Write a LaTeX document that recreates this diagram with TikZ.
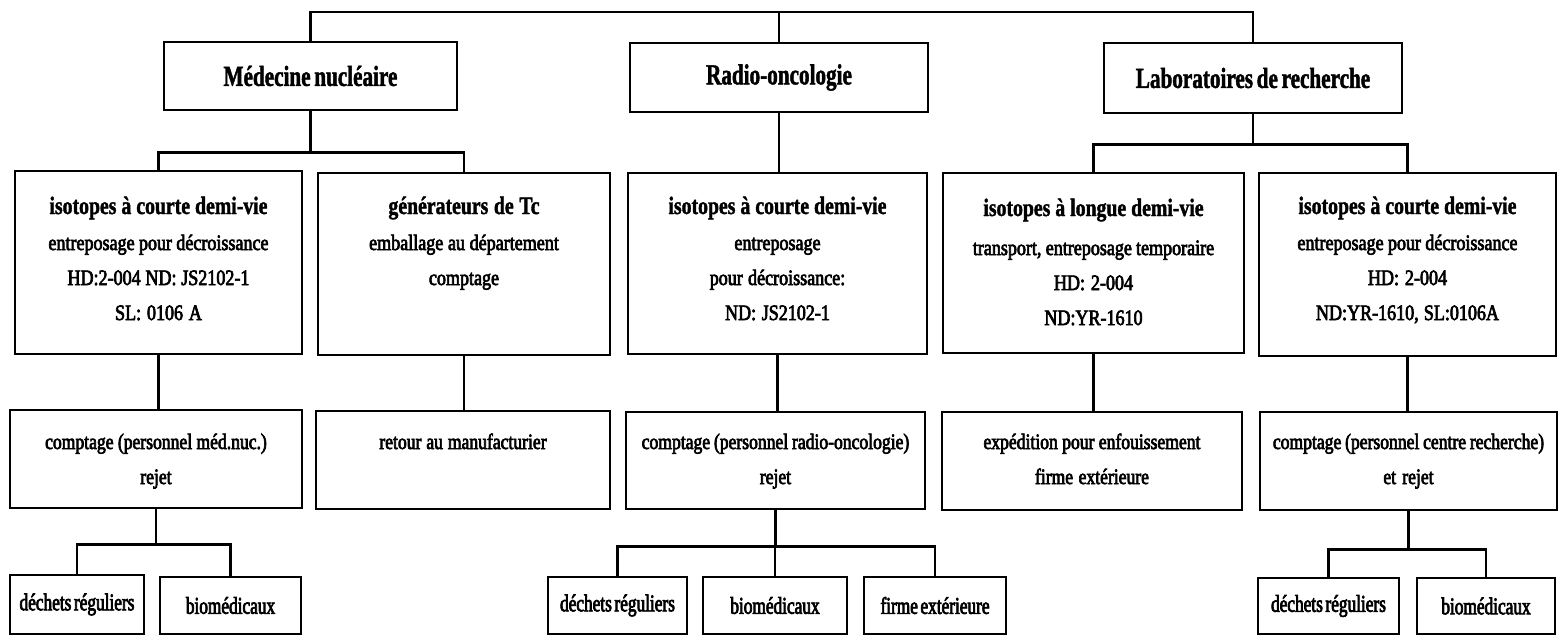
\documentclass[tikz,border=0pt]{standalone}
\usepackage{fontspec}
\setmainfont{Liberation Serif}
\newfontfamily\topf{Liberation Serif}[FakeStretch=0.73,WordSpace=0.7,BoldFeatures={FakeBold=1.5}]
\newfontfamily\ttlf{Liberation Serif}[FakeStretch=0.79,WordSpace=0.7,BoldFeatures={FakeBold=1.5}]
\newfontfamily\bdf{Liberation Serif}[FakeStretch=0.82,FakeBold=3,WordSpace=0.6]
\newfontfamily\rtf{Liberation Serif}[FakeStretch=0.8,FakeBold=3,WordSpace=0.6]
\newfontfamily\rff{Liberation Serif}[FakeStretch=0.72,FakeBold=3,WordSpace=0.6]
% \mkbox{name}{x1}{y1}{x2}{y2}{text}  (pixel coordinates, y downward)
\newcommand\mkbox[6]{\node[boxst, minimum width={(#4-#2)*0.5pt}, minimum height={(#5-#3)*0.5pt}] (#1) at ({(#2+#4)/2},{(#3+#5)/2}) {#6};}
\newcommand\toptext{\topf\bfseries\fontsize{14.5pt}{16pt}\selectfont}
\newcommand\botext{\rff\fontsize{12pt}{14pt}\selectfont}
\begin{document}
\begin{tikzpicture}[x=0.5pt,y=-0.5pt,line width=1.3pt,
  boxst/.style={draw, line width=1.3pt, inner sep=0pt},
  tight/.style={execute at begin node={\spaceskip=#1 plus 0.5pt\relax}},
  ttl/.style={anchor=base, inner sep=0pt, text width=160pt, align=center, tight=2pt, font={\ttlf\bfseries\fontsize{12.5pt}{15pt}\selectfont}},
  bdy/.style={anchor=base, inner sep=0pt, text width=160pt, align=center, tight=1.6pt, font={\bdf\fontsize{11pt}{17.5pt}\selectfont}},
  bdy3/.style={anchor=base, inner sep=0pt, text width=160pt, align=center, tight=1.6pt, font={\rtf\fontsize{11pt}{17.5pt}\selectfont}}]
\useasboundingbox (0,0) rectangle (1559,638);
% top level
\mkbox{med}{164}{42}{457}{110}{\toptext Médecine nucléaire}
\mkbox{rad}{630}{43}{928}{112}{\toptext Radio-oncologie}
\mkbox{lab}{1104}{43}{1402}{113}{\toptext Laboratoires de recherche}
% row 2
\mkbox{r2a}{15}{171}{302}{354}{}
\mkbox{r2b}{318}{173}{610}{355}{}
\mkbox{r2c}{628}{173}{927}{354}{}
\mkbox{r2d}{943}{173}{1244}{353}{}
\mkbox{r2e}{1259}{173}{1556}{356}{}
\node[ttl] (t2a) at (158.5,214) {isotopes à courte demi-vie};
\node[bdy] (d2a) at (158.5,250) {entreposage pour décroissance\\HD:2-004 ND: JS2102-1\\SL: 0106 A};
\node[ttl] (t2b) at (464,214) {générateurs de Tc};
\node[bdy] (d2b) at (464,250) {emballage au département\\comptage};
\node[ttl] (t2c) at (777.5,214) {isotopes à courte demi-vie};
\node[bdy] (d2c) at (777.5,250) {entreposage\\pour décroissance:\\ND: JS2102-1};
\node[ttl] (t2d) at (1093.5,216) {isotopes à longue demi-vie};
\node[bdy] (d2d) at (1093.5,255) {transport, entreposage temporaire\\HD: 2-004\\ND:YR-1610};
\node[ttl] (t2e) at (1407.5,214) {isotopes à courte demi-vie};
\node[bdy] (d2e) at (1407.5,250) {entreposage pour décroissance\\HD: 2-004\\ND:YR-1610, SL:0106A};
% row 3
\mkbox{r3a}{10}{410}{302}{508}{}
\mkbox{r3b}{316}{411}{610}{509}{}
\mkbox{r3c}{626}{412}{925}{509}{}
\mkbox{r3d}{942}{412}{1242}{510}{}
\mkbox{r3e}{1260}{412}{1557}{510}{}
\node[bdy3] (d3a) at (156,449) {comptage (personnel méd.nuc.)\\rejet};
\node[bdy3] (d3b) at (463,449) {retour au manufacturier};
\node[bdy3] (d3c) at (775.5,449) {comptage (personnel radio-oncologie)\\rejet};
\node[bdy3] (d3d) at (1092,449) {expédition pour enfouissement\\firme extérieure};
\node[bdy3] (d3e) at (1408.5,449) {comptage (personnel centre recherche)\\et rejet};
% row 4
\mkbox{r4a}{10}{575}{144}{634}{\botext déchets réguliers}
\mkbox{r4b}{160}{577}{301}{634}{\botext biomédicaux}
\mkbox{r4c}{548}{577}{687}{634}{\botext déchets réguliers}
\mkbox{r4d}{703}{577}{847}{634}{\botext biomédicaux}
\mkbox{r4e}{864}{577}{1006}{634}{\botext firme extérieure}
\mkbox{r4f}{1258}{578}{1399}{634}{\botext déchets réguliers}
\mkbox{r4g}{1417}{578}{1555}{634}{\botext biomédicaux}
% connectors
\coordinate (topc) at (779,12);
\draw (med.north) |- (topc) -| (lab.north);
\draw (topc) -- (rad.north);
\draw (med.south) -- ++(0,41) coordinate (mb);
\draw (r2a.north) |- (mb) -| (r2b.north);
\draw (rad.south) -- (rad.south |- r2c.north);
\draw (lab.south) -- ++(0,30) coordinate (lb);
\draw (r2d.north) |- (lb) -| (r2e.north);
\draw (r2a.south) -- (r2a.south |- r3a.north);
\draw (r2b.south) -- (r2b.south |- r3b.north);
\draw (r2c.south) -- (r2c.south |- r3c.north);
\draw (r2d.south) -- (r2d.south |- r3d.north);
\draw (r2e.south) -- (r2e.south |- r3e.north);
\draw (r3a.south) -- ++(0,35) coordinate (ab);
\draw (r4a.north) |- (ab) -| (r4b.north);
\draw (r3c.south) -- ++(0,36) coordinate (cb);
\draw (r4c.north) |- (cb) -| (r4e.north);
\draw (cb) -- (cb -| r4d.north) -- (r4d.north);
\draw (r3e.south) -- ++(0,38) coordinate (eb);
\draw (r4f.north) |- (eb) -| (r4g.north);
\end{tikzpicture}
\end{document}
